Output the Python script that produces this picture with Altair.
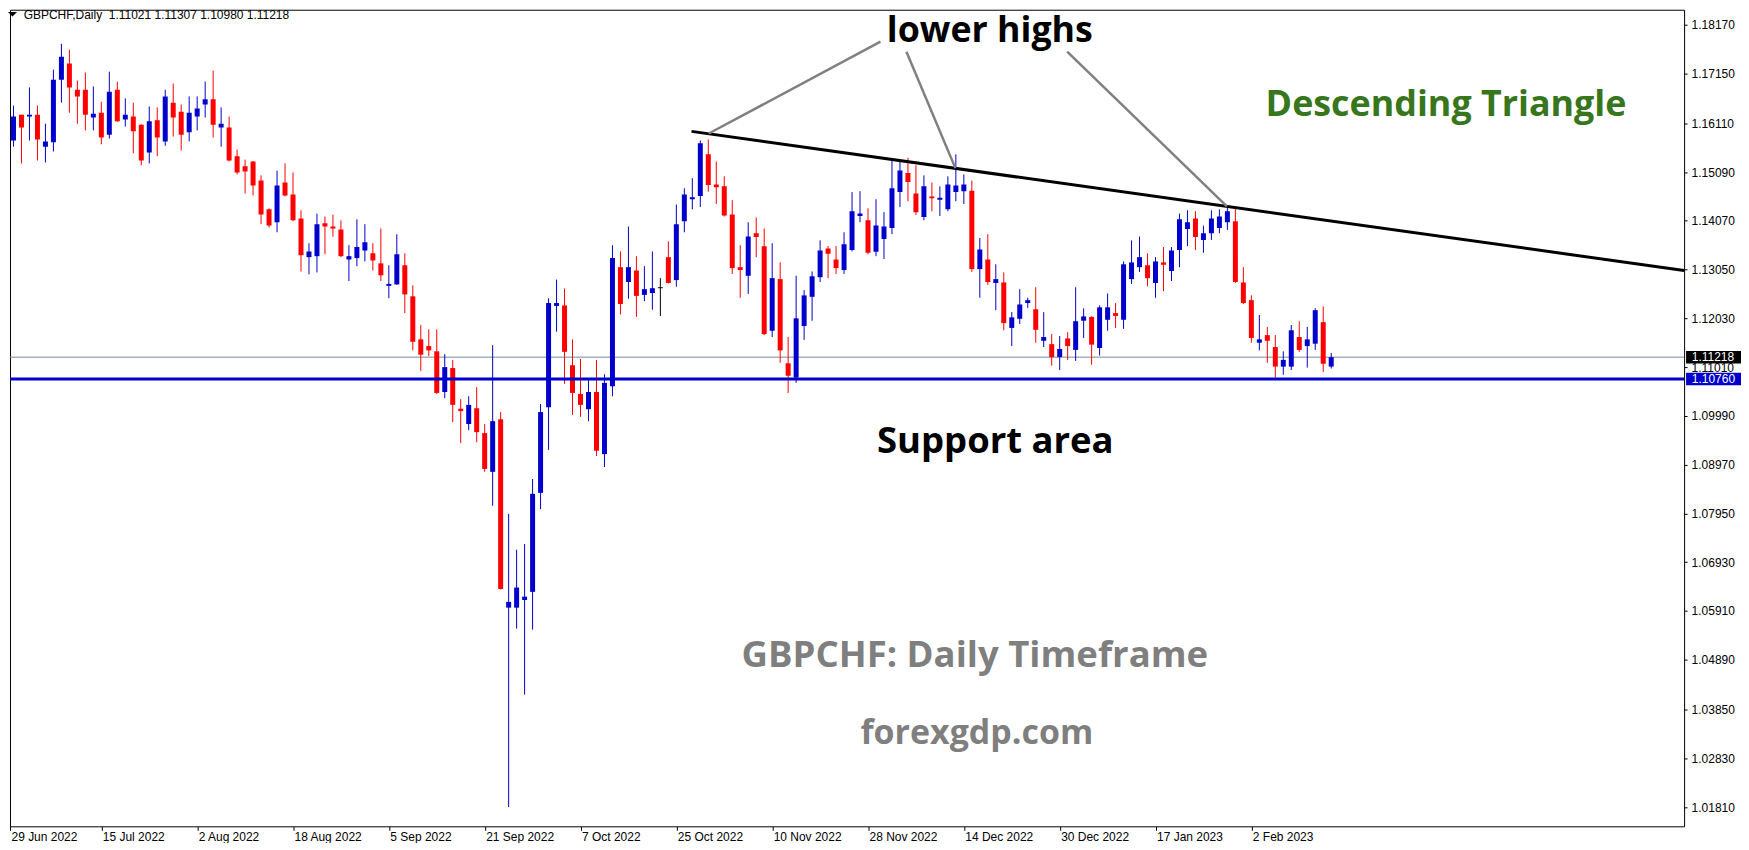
import json
import altair as alt
import pandas as pd

# ---------------- data ----------------
OPEN = [1.1655, 1.1575, 1.1629, 1.1625, 1.1629, 1.1562, 1.1571, 1.1702, 1.1736, 1.1681,
        1.1681, 1.1623, 1.1633, 1.1587, 1.1681, 1.1619, 1.1625, 1.1608, 1.1550, 1.1617,
        1.1573, 1.1654, 1.1635, 1.1592, 1.1625, 1.1650, 1.1661, 1.1602, 1.1602, 1.1542,
        1.1521, 1.1531, 1.1491, 1.1431, 1.1404, 1.1487, 1.1462, 1.1412, 1.1331, 1.1333,
        1.1402, 1.1395, 1.1389, 1.1326, 1.1329, 1.1345, 1.1339, 1.1318, 1.1272, 1.1274,
        1.1314, 1.1249, 1.1159, 1.1145, 1.1134, 1.1049, 1.1099, 1.1014, 1.0982, 1.1015,
        1.0963, 1.0882, 1.0992, 1.0598, 1.0598, 1.0614, 1.0631, 1.0838, 1.1017, 1.1229,
        1.1230, 1.1105, 1.1045, 1.1013, 1.1049, 1.0919, 1.1061, 1.1310, 1.1279, 1.1303,
        1.1252, 1.1256, 1.1267, 1.1331, 1.1283, 1.1406, 1.1452, 1.1459, 1.1546, 1.1483,
        1.1479, 1.1420, 1.1310, 1.1292, 1.1381, 1.1354, 1.1177, 1.1285, 1.1109, 1.1079,
        1.1187, 1.1248, 1.1289, 1.1349, 1.1326, 1.1304, 1.1346, 1.1417, 1.1408, 1.1342,
        1.1369, 1.1392, 1.1467, 1.1507, 1.1464, 1.1415, 1.1458, 1.1452, 1.1431, 1.1467,
        1.1469, 1.1470, 1.1306, 1.1326, 1.1277, 1.1278, 1.1183, 1.1202, 1.1235, 1.1222,
        1.1156, 1.1149, 1.1122, 1.1161, 1.1137, 1.1198, 1.1206, 1.1141, 1.1200, 1.1214,
        1.1200, 1.1285, 1.1310, 1.1314, 1.1277, 1.1320, 1.1302, 1.1346, 1.1390, 1.1412,
        1.1367, 1.1381, 1.1392, 1.1404, 1.1406, 1.1278, 1.1241, 1.1152, 1.1168, 1.1143,
        1.1102, 1.1102, 1.1164, 1.1145, 1.1150, 1.1195, 1.11021]
HIGH = [1.1679, 1.1648, 1.1629, 1.1686, 1.1648, 1.1610, 1.1723, 1.1777, 1.1765, 1.1700,
        1.1717, 1.1688, 1.1656, 1.1719, 1.1698, 1.1663, 1.1654, 1.1609, 1.1646, 1.1644,
        1.1681, 1.1694, 1.1650, 1.1667, 1.1667, 1.1698, 1.1721, 1.1644, 1.1625, 1.1556,
        1.1535, 1.1532, 1.1502, 1.1433, 1.1512, 1.1527, 1.1508, 1.1429, 1.1360, 1.1422,
        1.1416, 1.1420, 1.1408, 1.1356, 1.1410, 1.1400, 1.1360, 1.1391, 1.1314, 1.1379,
        1.1339, 1.1272, 1.1189, 1.1180, 1.1180, 1.1128, 1.1116, 1.1034, 1.1040, 1.1059,
        1.0982, 1.1147, 1.1007, 1.0794, 1.0719, 1.0731, 1.0867, 1.1024, 1.1245, 1.1284,
        1.1265, 1.1159, 1.1118, 1.1074, 1.1116, 1.1086, 1.1356, 1.1343, 1.1395, 1.1333,
        1.1312, 1.1343, 1.1287, 1.1364, 1.1441, 1.1475, 1.1496, 1.1575, 1.1577, 1.1531,
        1.1500, 1.1450, 1.1356, 1.1404, 1.1414, 1.1391, 1.1360, 1.1320, 1.1164, 1.1292,
        1.1262, 1.1301, 1.1366, 1.1354, 1.1354, 1.1383, 1.1467, 1.1469, 1.1433, 1.1452,
        1.1425, 1.1535, 1.1532, 1.1539, 1.1523, 1.1502, 1.1487, 1.1479, 1.1500, 1.1546,
        1.1504, 1.1491, 1.1371, 1.1379, 1.1316, 1.1299, 1.1216, 1.1264, 1.1246, 1.1268,
        1.1216, 1.1170, 1.1166, 1.1174, 1.1268, 1.1224, 1.1207, 1.1230, 1.1255, 1.1235,
        1.1322, 1.1366, 1.1374, 1.1339, 1.1331, 1.1352, 1.1352, 1.1422, 1.1429, 1.1427,
        1.1397, 1.1429, 1.1431, 1.1435, 1.1433, 1.1310, 1.1251, 1.1210, 1.1185, 1.1168,
        1.1134, 1.1189, 1.1197, 1.1185, 1.1224, 1.1228, 1.11307]
LOW = [1.1538, 1.1562, 1.1527, 1.1575, 1.1533, 1.1529, 1.1552, 1.1654, 1.1633, 1.1610,
       1.1596, 1.1596, 1.1567, 1.1579, 1.1614, 1.1604, 1.1548, 1.1523, 1.1527, 1.1542,
       1.1564, 1.1583, 1.1554, 1.1573, 1.1596, 1.1623, 1.1581, 1.1562, 1.1531, 1.1504,
       1.1464, 1.1460, 1.1400, 1.1393, 1.1383, 1.1458, 1.1406, 1.1301, 1.1295, 1.1299,
       1.1337, 1.1374, 1.1331, 1.1281, 1.1312, 1.1322, 1.1303, 1.1281, 1.1245, 1.1273,
       1.1214, 1.1136, 1.1093, 1.1124, 1.1045, 1.1036, 1.0986, 1.0942, 1.0969, 1.0944,
       1.0882, 1.0811, 1.0636, 1.0181, 1.0554, 1.0416, 1.0552, 1.0804, 1.0928, 1.1175,
       1.1066, 1.1001, 1.0997, 1.0988, 1.0915, 1.0892, 1.1040, 1.1211, 1.1244, 1.1206,
       1.1239, 1.1221, 1.1208, 1.1276, 1.1269, 1.1383, 1.1431, 1.1436, 1.1468, 1.1442,
       1.1416, 1.1296, 1.1246, 1.1254, 1.1331, 1.1168, 1.1164, 1.1110, 1.1047, 1.1068,
       1.1158, 1.1198, 1.1279, 1.1287, 1.1296, 1.1296, 1.1343, 1.1404, 1.1337, 1.1333,
       1.1327, 1.1379, 1.1436, 1.1448, 1.1419, 1.1408, 1.1427, 1.1417, 1.1427, 1.1448,
       1.1442, 1.1300, 1.1246, 1.1273, 1.1220, 1.1178, 1.1145, 1.1191, 1.1225, 1.1152,
       1.1143, 1.1104, 1.1095, 1.1116, 1.1114, 1.1162, 1.1106, 1.1125, 1.1177, 1.1183,
       1.1181, 1.1275, 1.1300, 1.1270, 1.1246, 1.1260, 1.1281, 1.1310, 1.1354, 1.1346,
       1.1340, 1.1367, 1.1381, 1.1388, 1.1277, 1.1233, 1.1152, 1.1136, 1.1110, 1.1079,
       1.1085, 1.1095, 1.1133, 1.1100, 1.1137, 1.1091, 1.10980]
CLOSE = [1.1569, 1.1625, 1.1602, 1.1629, 1.1577, 1.1573, 1.1702, 1.1750, 1.1686, 1.1667,
         1.1629, 1.1631, 1.1581, 1.1677, 1.1615, 1.1629, 1.1594, 1.1533, 1.1615, 1.1581,
         1.1667, 1.1623, 1.1587, 1.1633, 1.1642, 1.1661, 1.1608, 1.1610, 1.1533, 1.1508,
         1.1510, 1.1481, 1.1420, 1.1397, 1.1481, 1.1460, 1.1408, 1.1335, 1.1343, 1.1400,
         1.1395, 1.1391, 1.1333, 1.1333, 1.1352, 1.1362, 1.1324, 1.1293, 1.1274, 1.1337,
         1.1253, 1.1154, 1.1127, 1.1136, 1.1047, 1.1101, 1.1022, 1.1009, 1.1022, 1.0965,
         1.0888, 1.0988, 1.0637, 1.0610, 1.0640, 1.0621, 1.0836, 1.1007, 1.1235, 1.1235,
         1.1133, 1.1047, 1.1022, 1.1049, 1.0926, 1.1068, 1.1329, 1.1233, 1.1310, 1.1250,
         1.1264, 1.1266, 1.1267, 1.1277, 1.1400, 1.1462, 1.1456, 1.1569, 1.1482, 1.1477,
         1.1418, 1.1308, 1.1304, 1.1374, 1.1373, 1.1170, 1.1287, 1.1136, 1.1083, 1.1203,
         1.1251, 1.1291, 1.1345, 1.1338, 1.1308, 1.1358, 1.1427, 1.1422, 1.1340, 1.1397,
         1.1395, 1.1475, 1.1512, 1.1488, 1.1425, 1.1479, 1.1454, 1.1454, 1.1483, 1.1481,
         1.1483, 1.1306, 1.1347, 1.1279, 1.1285, 1.1193, 1.1205, 1.1232, 1.1241, 1.1179,
         1.1164, 1.1122, 1.1139, 1.1145, 1.1197, 1.1207, 1.1148, 1.1226, 1.1226, 1.1208,
         1.1316, 1.1320, 1.1331, 1.1287, 1.1322, 1.1315, 1.1345, 1.1410, 1.1404, 1.1373,
         1.1381, 1.1412, 1.1416, 1.1427, 1.1279, 1.1235, 1.1162, 1.1159, 1.1156, 1.1102,
         1.1116, 1.1178, 1.1137, 1.1159, 1.1220, 1.1108, 1.11218]

TICK_BARS = [0, 12, 24, 36, 48, 60, 72, 84, 96, 108, 120, 132, 144, 156]
TICK_LABELS = ["29 Jun 2022", "15 Jul 2022", "2 Aug 2022", "18 Aug 2022", "5 Sep 2022",
               "21 Sep 2022", "7 Oct 2022", "25 Oct 2022", "10 Nov 2022", "28 Nov 2022",
               "14 Dec 2022", "30 Dec 2022", "17 Jan 2023", "2 Feb 2023"]
PRICE_TICKS = [1.18170, 1.17150, 1.16110, 1.15090, 1.14070, 1.13050, 1.12030, 1.11010,
               1.09990, 1.08970, 1.07950, 1.06930, 1.05910, 1.04890, 1.03850, 1.02830,
               1.01810]

BID = 1.11218
SUPPORT = 1.10760

TREND_BARS = [85.9, 210.19]
TREND_PRICES = [1.1594, 1.1303]

CONN_SEG = ["a", "a", "b", "b", "c", "c"]
CONN_BARS = [88.06, 109.56, 112.81, 118.94, 132.94, 152.94]
CONN_PRICES = [1.15895, 1.17816, 1.17607, 1.15171, 1.17607, 1.14371]

NOTE_TEXTS = ["lower highs", "Descending Triangle", "Support area",
              "GBPCHF: Daily Timeframe", "forexgdp.com"]
NOTE_BARS = [123.25, 180.375, 123.94, 121.375, 121.625]
NOTE_PRICES = [1.17816, 1.16261, 1.09215, 1.04740, 1.03129]

# ---------------- layout / style ----------------
NOTE_COLORS = ["#000000", "#38761D", "#000000", "#7F7F7F", "#7F7F7F"]
NOTE_SIZES = [35.8, 35.9, 36.5, 36.6, 34]

W, H = 1677, 818
X_DOMAIN = [0.5625, 210.1875]
Y_DOMAIN = [1.01407, 1.18484]
BLUE = "#0000CC"
RED = "#FF0000"
FONT = "Liberation Sans"
NOTE_FONT = "Open Sans"

xs = alt.Scale(domain=X_DOMAIN, nice=False, zero=False)
ys = alt.Scale(domain=Y_DOMAIN, nice=False, zero=False)

label_expr = json.dumps(TICK_LABELS) + "[round(datum.value / 12)]"
x_axis = alt.Axis(orient="bottom", values=[X_DOMAIN[0]] + TICK_BARS[1:], labelExpr=label_expr,
                  title=None, grid=False, domain=False, tickSize=4, tickColor="black",
                  labelAlign="left", labelBaseline="top", labelPadding=1, labelOffset=1,
                  labelFont=FONT, labelFontSize=12, labelColor="black",
                  labelFlush=False, labelOverlap=False, labelBound=False)
y_axis = alt.Axis(orient="right", values=PRICE_TICKS, format=".5f", title=None, grid=False,
                  domain=False, tickSize=3, tickColor="black", labelPadding=4,
                  labelFont=FONT, labelFontSize=12, labelColor="black",
                  labelOverlap=False, labelFlush=False)


def X(f):
    return alt.X(f, type="quantitative", scale=xs, axis=x_axis)


def Y(f):
    return alt.Y(f, type="quantitative", scale=ys, axis=y_axis)


candles = pd.DataFrame({"bar": list(range(len(OPEN))), "open": OPEN, "high": HIGH,
                        "low": LOW, "close": CLOSE})

base = alt.Chart(candles).transform_calculate(
    dir="datum.close > datum.open ? 'up' : (datum.close < datum.open ? 'down' : 'flat')",
    btop="max(datum.open, datum.close) + (abs(datum.open - datum.close) < 0.0002 ? 0.0001 : 0)",
    bbot="min(datum.open, datum.close) - (abs(datum.open - datum.close) < 0.0002 ? 0.0001 : 0)",
    xl="datum.bar - 0.3125",
    xr="datum.bar + 0.3125",
)
color = alt.Color("dir:N", scale=alt.Scale(domain=["up", "down", "flat"],
                                           range=[BLUE, RED, "#000000"]), legend=None)

wicks = base.mark_rule(strokeWidth=1, clip=True).encode(
    x=X("bar"), y=Y("low"), y2=alt.Y2("high"), color=color)
bodies = base.mark_rect(clip=True).encode(
    x=X("xl"), x2=alt.X2("xr"), y=Y("btop"), y2=alt.Y2("bbot"), color=color)

bid = alt.Chart(pd.DataFrame({"price": [BID]})).mark_rule(
    color="#778899", strokeWidth=1).encode(y=Y("price"))
support = alt.Chart(pd.DataFrame({"price": [SUPPORT]})).mark_rule(
    color=BLUE, strokeWidth=3).encode(y=Y("price"))

trend = alt.Chart(pd.DataFrame({"bar": TREND_BARS, "price": TREND_PRICES})).mark_line(
    color="black", strokeWidth=3, clip=True).encode(x=X("bar"), y=Y("price"))

conn = alt.Chart(pd.DataFrame({"seg": CONN_SEG, "bar": CONN_BARS, "price": CONN_PRICES})).mark_line(
    color="#808080", strokeWidth=2.5).encode(x=X("bar"), y=Y("price"), detail="seg:N")

notes_df = pd.DataFrame({"text": NOTE_TEXTS, "bar": NOTE_BARS, "price": NOTE_PRICES,
                         "col": NOTE_COLORS, "fs": NOTE_SIZES})
notes = alt.Chart(notes_df).mark_text(
    font=NOTE_FONT, fontWeight="bold", align="center", baseline="alphabetic"
).encode(x=X("bar"), y=Y("price"), text="text:N",
         color=alt.Color("col:N", scale=None),
         size=alt.Size("fs:Q", scale=None))

header_text = "GBPCHF,Daily\u00a0 {:.5f} {:.5f} {:.5f} {:.5f}".format(
    OPEN[-1], HIGH[-1], LOW[-1], CLOSE[-1])
header = alt.Chart(pd.DataFrame({"t": [header_text]})).mark_text(
    font=FONT, fontSize=12, align="left", baseline="top", color="black"
).encode(x=alt.value(13.7), y=alt.value(0), text="t:N")
tri = alt.Chart(pd.DataFrame({"t": [header_text]})).mark_point(
    shape="M-1,-0.5L1,-0.5L0,0.5Z", filled=True, color="black", size=81, opacity=1
).encode(x=alt.value(2.5), y=alt.value(4.5))

tags_df = pd.DataFrame({"price": [BID, SUPPORT], "bg": ["#000000", BLUE]})
tags_base = alt.Chart(tags_df).transform_calculate(
    top="datum.price + 0.0013", bot="datum.price - 0.0013")
tag_rect = tags_base.mark_rect().encode(
    x=alt.value(W + 2), x2=alt.value(W + 57), y=Y("top"), y2=alt.Y2("bot"),
    color=alt.Color("bg:N", scale=None))
tag_text = tags_base.mark_text(
    font=FONT, fontSize=12, align="left", baseline="middle", color="white"
).encode(x=alt.value(W + 7.7), y=Y("price"), text=alt.Text("price:Q", format=".5f"))

chart = alt.layer(
    bid, wicks, bodies, support, trend, conn, notes, header, tri, tag_rect, tag_text
).properties(
    width=W, height=H, padding=0, background="white"
).configure_view(stroke="black", strokeWidth=1)

chart.save("out.html", embed_options={"renderer": "svg", "actions": False})
